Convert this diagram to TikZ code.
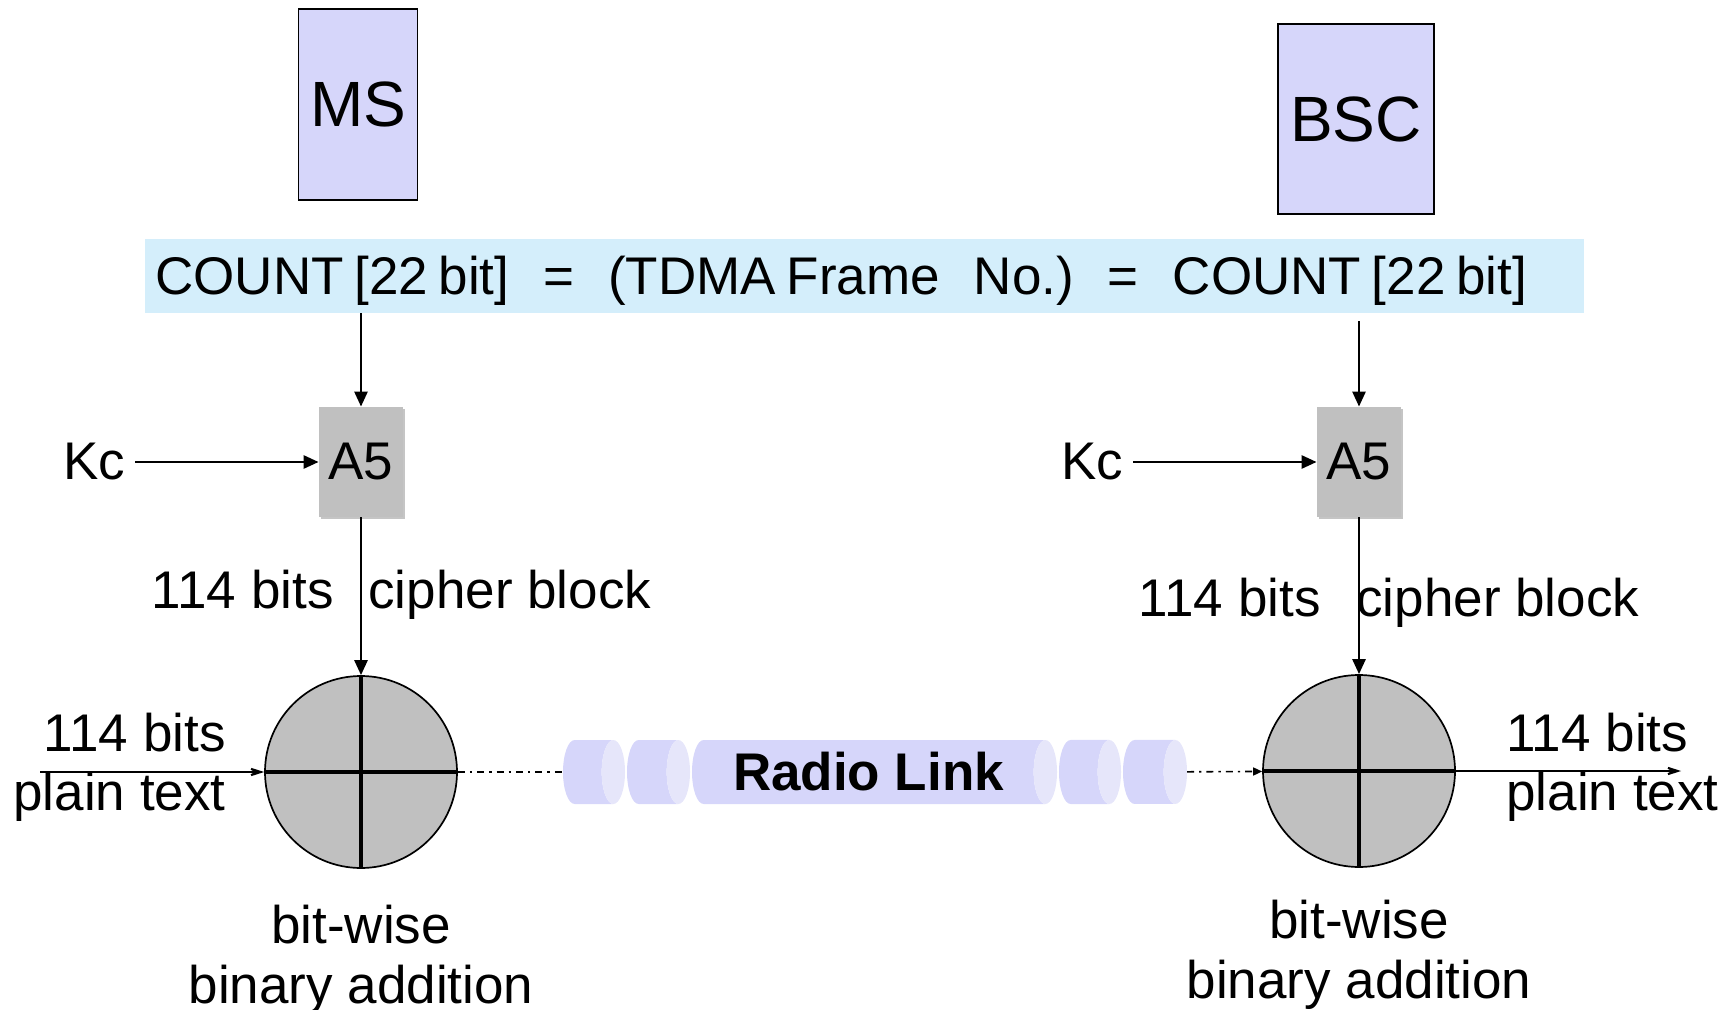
\documentclass[tikz,border=0pt]{standalone}
\usepackage{fontspec}
\setmainfont{Liberation Sans}
\usetikzlibrary{positioning, arrows.meta, shapes.geometric, shadows}
\definecolor{stationblue}{HTML}{D6D6FA}
\definecolor{countblue}{HTML}{D4EEFB}
\definecolor{linkbody}{HTML}{D6D6FA}
\definecolor{linkend}{HTML}{E6E6FA}
\definecolor{boxgray}{HTML}{C0C0C0}
\tikzset{
  station/.style={draw, line width=0.9pt, fill=stationblue, inner sep=0pt, font=\fontsize{32}{38}\selectfont},
  countbar/.style={fill=countblue, minimum width=719.5pt, minimum height=37pt, text width=709.5pt, inner xsep=5pt, align=left,
    text depth=1.2pt, font=\fontsize{26.5}{30}\selectfont},
  algo/.style={fill=boxgray, minimum width=42pt, minimum height=55pt, inner sep=0pt, font=\fontsize{26.5}{30}\selectfont,
    drop shadow={shadow xshift=1.2pt, shadow yshift=-1.2pt, fill=black!45, opacity=0.5}},
  xor/.style={circle, draw, line width=0.85pt, fill=boxgray, minimum size=96pt, inner sep=0pt},
  link/.style={cylinder, shape aspect=0.6, draw=none, cylinder uses custom fill, cylinder body fill=linkbody,
    cylinder end fill=linkend, minimum width=32pt, inner sep=0pt, outer sep=0pt, font=\fontsize{26.5}{30}\selectfont\bfseries},
  txt/.style={inner sep=0pt, font=\fontsize{26.5}{29.5}\selectfont},
  arr/.style={-{Triangle[length=7.5pt, width=6.5pt]}, line width=1.3pt},
  ptarr/.style={-{Stealth[length=12.5pt, width=8pt, inset=8pt]}, line width=1pt},
  radio/.style={-{Triangle[length=4.5pt, width=4pt]}, line width=0.8pt, dash pattern=on 3.5pt off 2.5pt on 1.2pt off 2.5pt},
  cross/.style={line width=2.3pt}
}

\begin{document}
\begin{tikzpicture}[x=0.5pt, y=-0.5pt]
\useasboundingbox (0,0) rectangle (1734,1010);
% stations
\node[station, minimum width=59.5pt, minimum height=95.5pt] (ms) at (358,104.5) {MS};
\node[station, minimum width=78pt, minimum height=95pt] (bsc) at (1356,119) {BSC};
\node[countbar, anchor=west] (count) at (145,276) {\spaceskip=5.3pt\relax COUNT [22 bit]\hspace{17pt}=\hspace{17pt}(TDMA Frame\hspace{17pt}No.)\hspace{17pt}=\hspace{17pt}COUNT [22 bit]};

% MS side
\node[algo] (a5L) at (361,462) {A5};
\node[txt, inner xsep=5pt] (kcL) at (94,462) {Kc};
\node[xor] (xorL) at (361,772) {};
\draw[arr] (count.south -| a5L) -- (a5L);
\draw[arr] (kcL) -- (a5L);
\draw[arr] (a5L) -- (xorL);
\draw[cross] (xorL.north) -- (xorL.south) (xorL.west) -- (xorL.east);
\node[txt, anchor=base east] (bitsL) at (334,608) {114 bits};
\node[txt, anchor=base west] (cipherL) at (368,608) {cipher block};
\coordinate (ptinL) at (40,772);
\draw[ptarr] (ptinL) -- (xorL);
\node[txt, anchor=north east, align=right] (plainL) at (226,713) {114 bits\\plain text};
\node[txt, align=center, below=18pt of xorL, font=\fontsize{26.5}{30}\selectfont] (addL) {bit-wise\\binary addition};

% BSC side
\node[algo] (a5R) at (1359,462) {A5};
\node[txt, inner xsep=5pt] (kcR) at (1092,462) {Kc};
\node[xor] (xorR) at (1359,771) {};
\draw[arr, shorten <=4pt] (count.south -| a5R) -- (a5R);
\draw[arr] (kcR) -- (a5R);
\draw[arr] (a5R) -- (xorR);
\draw[cross] (xorR.north) -- (xorR.south) (xorR.west) -- (xorR.east);
\node[txt, anchor=base east] (bitsR) at (1321,616) {114 bits};
\node[txt, anchor=base west] (cipherR) at (1356,616) {cipher block};
\coordinate (ptoutR) at (1681,771);
\draw[ptarr] (xorR) -- (ptoutR);
\node[txt, anchor=north west, align=left] (plainR) at (1506,713) {114 bits\\plain text};
\node[txt, align=center, below=16pt of xorR, font=\fontsize{26.5}{30}\selectfont] (addR) {bit-wise\\binary addition};

% radio link
\node[link, minimum height=31pt, anchor=west] (link1) at (563,772) {\vphantom{Radio Link}};
\node[link, minimum height=31.5pt, right=1pt of link1] (link2) {\vphantom{Radio Link}};
\node[link, minimum height=182.5pt, right=1pt of link2] (rlink) {Radio Link};
\node[link, minimum height=31pt, right=1pt of rlink] (link4) {\vphantom{Radio Link}};
\node[link, minimum height=32pt, right=1pt of link4] (link5) {\vphantom{Radio Link}};
\draw[radio, -] (xorL) -- (link1);
\draw[radio] (link5) -- (xorR);
\end{tikzpicture}
\end{document}
